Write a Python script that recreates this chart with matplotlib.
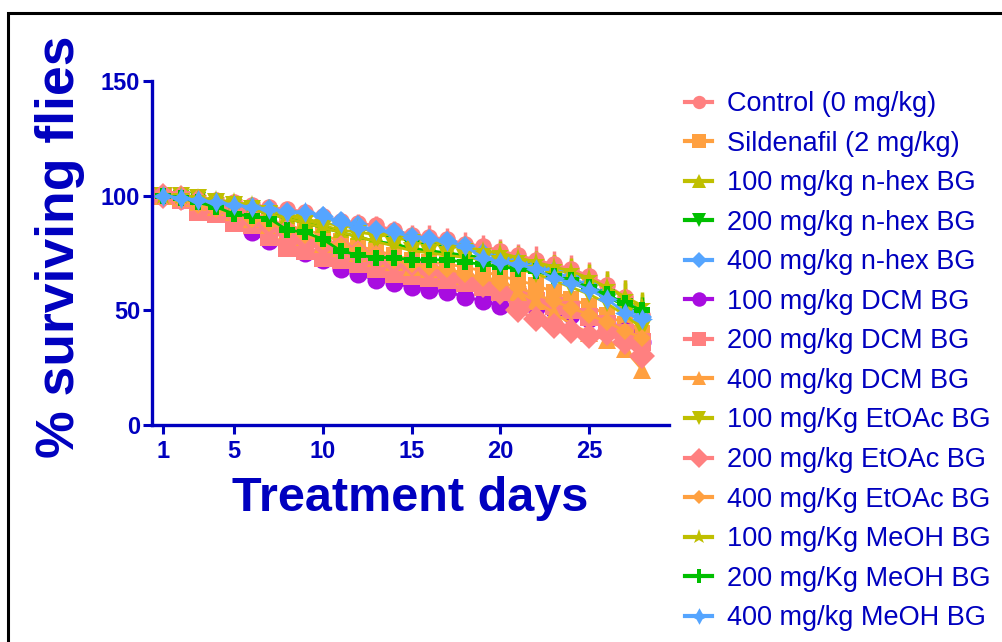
import matplotlib.pyplot as plt
import matplotlib.patches as mpatches
import numpy as np

plt.rcParams['font.family'] = ['Liberation Sans', 'DejaVu Sans']

days = np.arange(1, 29)

labels = ["Control (0 mg/kg)", "Sildenafil (2 mg/kg)", "100 mg/kg n-hex BG",
          "200 mg/kg n-hex BG", "400 mg/kg n-hex BG", "100 mg/kg DCM BG",
          "200 mg/kg DCM BG", "400 mg/kg DCM BG", "100 mg/Kg EtOAc BG",
          "200 mg/kg EtOAc BG", "400 mg/Kg EtOAc BG", "100 mg/Kg MeOH BG",
          "200 mg/Kg MeOH BG", "400 mg/kg MeOH BG"]

# mean % survival per day
control = [100, 100, 99, 98, 97, 96, 95, 94, 93, 91, 89, 88, 87, 85, 83, 82, 81, 79, 78, 76, 74, 72, 70, 68, 65, 61, 56, 48]
sildenafil = [100, 98, 95, 94, 93, 91, 89, 87, 85, 83, 80, 78, 76, 74, 72, 71, 70, 69, 67, 65, 63, 61, 58, 55, 52, 48, 44, 40]
nhex_100 = [100, 100, 99, 98, 97, 95, 93, 91, 89, 87, 85, 84, 83, 82, 80, 79, 78, 77, 75, 74, 72, 70, 68, 66, 63, 60, 56, 49]
nhex_200 = [100, 99, 98, 97, 96, 94, 92, 90, 88, 86, 84, 82, 80, 79, 77, 76, 75, 74, 73, 71, 69, 67, 65, 62, 59, 56, 52, 48]
nhex_400 = [100, 99, 98, 97, 96, 95, 94, 93, 92, 91, 89, 87, 85, 84, 82, 81, 80, 78, 75, 73, 71, 69, 67, 64, 61, 57, 52, 47]
dcm_100 = [100, 98, 96, 95, 90, 84, 80, 78, 75, 72, 68, 66, 63, 62, 60, 59, 58, 56, 54, 52, 52, 51, 50, 48, 46, 44, 41, 36]
dcm_200 = [100, 98, 93, 92, 88, 87, 82, 77, 76, 73, 72, 70, 68, 66, 65, 64, 63, 62, 60, 58, 56, 54, 52, 50, 47, 44, 40, 36]
dcm_400 = [100, 99, 97, 95, 93, 90, 87, 85, 82, 79, 77, 75, 73, 71, 69, 68, 67, 65, 63, 61, 58, 54, 49, 44, 40, 37, 33, 24]
etoac_100 = [100, 100, 99, 97, 96, 94, 92, 90, 88, 86, 84, 82, 80, 78, 76, 75, 74, 73, 72, 70, 68, 66, 63, 60, 57, 53, 48, 42]
etoac_200 = [100, 99, 97, 95, 93, 90, 87, 84, 81, 79, 77, 75, 73, 71, 70, 68, 66, 64, 61, 58, 50, 46, 43, 41, 39, 40, 36, 30]
etoac_400 = [100, 98, 96, 94, 92, 90, 88, 85, 83, 80, 78, 76, 74, 72, 70, 69, 68, 66, 64, 62, 60, 57, 54, 51, 48, 45, 41, 38]
meoh_100 = [100, 100, 99, 98, 97, 96, 94, 92, 90, 88, 87, 86, 84, 83, 82, 80, 79, 78, 76, 75, 73, 71, 69, 67, 64, 60, 56, 52]
meoh_200 = [100, 99, 97, 95, 92, 91, 90, 85, 84, 81, 76, 74, 73, 73, 72, 72, 72, 71, 70, 69, 68, 67, 65, 63, 60, 57, 53, 50]
meoh_400 = [100, 99, 98, 97, 96, 95, 94, 93, 93, 91, 88, 86, 85, 84, 82, 81, 80, 78, 73, 71, 70, 68, 64, 62, 59, 55, 49, 46]

# upper SEM
control_err = [0, 1, 2, 2, 2, 3, 3, 3, 3, 4, 4, 4, 4, 4, 4, 5, 5, 5, 5, 5, 5, 6, 6, 6, 6, 6, 7, 7]
sildenafil_err = [0, 2, 2, 2, 3, 3, 3, 3, 3, 3, 4, 4, 4, 4, 4, 4, 4, 4, 4, 5, 5, 5, 5, 5, 5, 5, 5, 6]
nhex_100_err = [0, 1, 1, 2, 2, 2, 3, 3, 3, 3, 3, 4, 4, 4, 4, 4, 4, 5, 5, 5, 5, 5, 6, 6, 6, 7, 7, 8]
nhex_200_err = [0, 1, 1, 2, 2, 2, 3, 3, 3, 3, 3, 4, 4, 4, 4, 4, 4, 4, 5, 5, 5, 5, 5, 5, 6, 6, 6, 6]
nhex_400_err = [0, 1, 1, 1, 2, 2, 2, 2, 3, 3, 3, 3, 3, 3, 3, 4, 4, 4, 4, 4, 4, 4, 4, 4, 5, 5, 5, 5]
dcm_100_err = [0, 1, 2, 2, 3, 3, 3, 3, 3, 4, 4, 4, 4, 4, 4, 4, 4, 4, 5, 5, 5, 5, 5, 5, 5, 5, 5, 6]
dcm_200_err = [0, 1, 2, 2, 3, 3, 3, 4, 4, 4, 4, 4, 4, 4, 4, 5, 5, 5, 5, 5, 5, 5, 5, 5, 6, 6, 6, 6]
dcm_400_err = [0, 1, 2, 2, 2, 3, 3, 3, 3, 3, 4, 4, 4, 4, 4, 4, 4, 4, 4, 5, 5, 5, 5, 5, 5, 6, 6, 6]
etoac_100_err = [0, 1, 1, 2, 2, 2, 3, 3, 3, 3, 3, 4, 4, 4, 4, 4, 5, 5, 5, 5, 5, 5, 6, 6, 7, 7, 8, 9]
etoac_200_err = [0, 1, 2, 2, 2, 3, 3, 3, 3, 4, 4, 4, 4, 4, 4, 4, 4, 5, 5, 5, 5, 5, 5, 5, 5, 5, 5, 6]
etoac_400_err = [0, 1, 2, 2, 2, 3, 3, 3, 3, 3, 4, 4, 4, 4, 4, 4, 4, 4, 5, 5, 5, 5, 5, 5, 5, 5, 6, 6]
meoh_100_err = [0, 1, 1, 2, 2, 2, 3, 3, 3, 3, 3, 3, 4, 4, 4, 4, 4, 4, 5, 5, 5, 5, 5, 6, 6, 6, 6, 6]
meoh_200_err = [0, 1, 1, 2, 2, 2, 3, 3, 3, 3, 3, 3, 4, 4, 4, 4, 4, 4, 4, 5, 5, 5, 5, 5, 5, 5, 6, 6]
meoh_400_err = [0, 1, 1, 1, 2, 2, 2, 2, 3, 3, 3, 3, 3, 3, 3, 3, 4, 4, 4, 4, 4, 4, 4, 4, 4, 5, 5, 5]

means = [control, sildenafil, nhex_100, nhex_200, nhex_400, dcm_100, dcm_200,
         dcm_400, etoac_100, etoac_200, etoac_400, meoh_100, meoh_200, meoh_400]
errs = [control_err, sildenafil_err, nhex_100_err, nhex_200_err, nhex_400_err,
        dcm_100_err, dcm_200_err, dcm_400_err, etoac_100_err, etoac_200_err,
        etoac_400_err, meoh_100_err, meoh_200_err, meoh_400_err]

salmon, orange, olive, green, blue, purple = '#FF8080', '#FFA040', '#BFBF00', '#00BF00', '#55A5FF', '#A80CE0'
colors = [salmon, orange, olive, green, blue, purple, salmon, orange, olive,
          salmon, orange, olive, green, blue]
markers = ['o', 's', '^', 'v', 'D', 'o', 's', '^', 'v', 'D', 'D', '*', 'P', (4, 1, 0)]
msizes = [12, 12, 12, 12, 10, 13, 13, 13, 13, 13, 9, 14, 12, 15]

axis_blue = '#0000BF'

fig = plt.figure(figsize=(10.03, 6.42), dpi=100)
ax = fig.add_axes([0.1515, 0.338, 0.5155, 0.536])

handles = []
for m, e, c, mk, ms, lab in zip(means, errs, colors, markers, msizes, labels):
    m = np.array(m, dtype=float)
    e = np.array(e, dtype=float)
    cont = ax.errorbar(days, m, yerr=[np.zeros_like(e), e], color=c, marker=mk,
                       markersize=ms, markeredgewidth=0, lw=2, elinewidth=2.5,
                       capsize=6, capthick=4.5, label=lab)
    handles.append(cont[0])

ax.set_xlim(0.38, 29.5)
ax.set_ylim(0, 150)
ax.set_xticks([1, 5, 10, 15, 20, 25])
ax.set_yticks([0, 50, 100, 150])
for side in ['top', 'right']:
    ax.spines[side].set_visible(False)
for side in ['left', 'bottom']:
    ax.spines[side].set_color(axis_blue)
    ax.spines[side].set_linewidth(2.4)
ax.tick_params(colors=axis_blue, width=2.2, length=6.5, labelsize=17)
ax.tick_params(axis='y', pad=2)
ax.tick_params(axis='x', pad=4)
for t in ax.get_xticklabels() + ax.get_yticklabels():
    t.set_fontweight('bold')

fig.text(0.409, 0.224, "Treatment days", color=axis_blue, fontsize=35,
         fontweight='bold', ha='center', va='center')
fig.text(0.06, 0.615, "% surviving flies", color=axis_blue, fontsize=38.5,
         fontweight='bold', ha='center', va='center', rotation=90)

leg = fig.legend(handles, labels, loc='upper left',
                 bbox_to_anchor=(0.683, 0.858), frameon=False,
                 fontsize=19.5, labelcolor=axis_blue, handlelength=1.0,
                 handletextpad=0.55, labelspacing=0.5, borderaxespad=0,
                 borderpad=0, markerscale=0.8)
for h in leg.legend_handles:
    h.set_linewidth(3)

# outer frame of the figure panel
fig.add_artist(mpatches.Rectangle((8 / 1003, -0.1), 1.2, 1 - 13 / 642 + 0.1,
                                  transform=fig.transFigure, fill=False,
                                  edgecolor='black', lw=2.2))

fig.savefig('out.png', dpi=100)
